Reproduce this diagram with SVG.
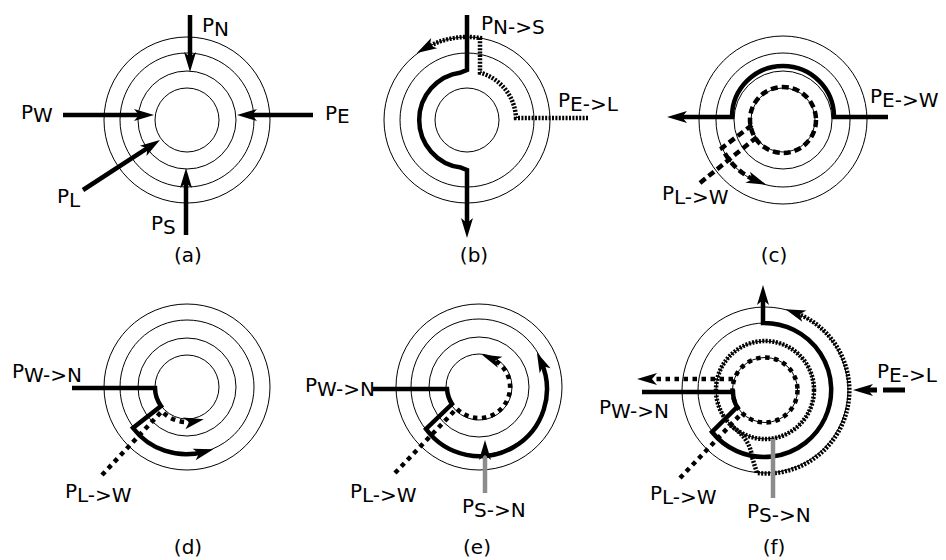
<svg xmlns="http://www.w3.org/2000/svg" width="946" height="560" viewBox="0 0 946 560">
<style>
.ring{fill:none;stroke:#000;stroke-width:1}
.thick{fill:none;stroke:#000;stroke-width:4.5}
.rail{fill:none;stroke:#000;stroke-width:4.5;stroke-dasharray:2 1.4}
.sq{fill:none;stroke:#000;stroke-width:4.5;stroke-dasharray:4.5 4.5}
.dash{fill:none;stroke:#000;stroke-width:4.5;stroke-dasharray:7 4}
.gray{fill:none;stroke:#8c8c8c;stroke-width:4.5}
text{font-family:"DejaVu Sans","Liberation Sans",sans-serif;font-size:20px;fill:#000}
.cap{text-anchor:middle}
</style>
<defs>
<marker id="ah" markerUnits="userSpaceOnUse" markerWidth="24" markerHeight="16" viewBox="-12 -8 24 16" refX="0" refY="0" orient="auto" overflow="visible">
<path d="M10,0 L-10,-6 L-5,0 L-10,6 Z" fill="#000"/>
</marker>
</defs>
<rect width="946" height="560" fill="#fff"/>

<g id="panel-a">
<circle class="ring" cx="187" cy="120" r="32"/>
<circle class="ring" cx="187" cy="120" r="49"/>
<circle class="ring" cx="187" cy="120" r="67"/>
<circle class="ring" cx="187" cy="120" r="83"/>
<g id="connectors-a">
<path class="thick" d="M190,15 V62" marker-end="url(#ah)"/>
<path class="thick" d="M63,115 H144" marker-end="url(#ah)"/>
<path class="thick" d="M313,115 H247" marker-end="url(#ah)"/>
<path class="thick" d="M186,235 V178" marker-end="url(#ah)"/>
<path class="thick" d="M83,190 L151.6,145.4" marker-end="url(#ah)"/>
</g>
<text x="202" y="32">P<tspan dy="3.5">N</tspan></text>
<text x="21" y="118.5">P<tspan dy="3.5">W</tspan></text>
<text x="325" y="119.5">P<tspan dy="3.5">E</tspan></text>
<text x="57" y="203">P<tspan dy="3.5">L</tspan></text>
<text x="151" y="230">P<tspan dy="3.5">S</tspan></text>
<text class="cap" x="188" y="262">(a)</text>
</g>

<g id="panel-b">
<circle class="ring" cx="467" cy="120" r="32"/>
<circle class="ring" cx="467" cy="120" r="67"/>
<circle class="ring" cx="467" cy="120" r="83"/>
<g id="connectors-b">
<path class="thick" d="M467,15 V70 L461,72.4 A48,48 0 0 0 461,167.6 L467,170 V228" marker-end="url(#ah)"/>
<path class="rail" d="M588,118 H516 A49,49 0 0 0 480,72.7 V38 A83,83 0 0 0 425.5,48.1" marker-end="url(#ah)"/>
</g>
<text x="481" y="30">P<tspan dy="4">N-&gt;S</tspan></text>
<text x="558" y="107">P<tspan dy="4">E-&gt;L</tspan></text>
<text class="cap" x="474" y="262">(b)</text>
</g>

<g id="panel-c">
<circle class="ring" cx="783" cy="120" r="32"/>
<circle class="ring" cx="783" cy="120" r="49"/>
<circle class="ring" cx="783" cy="120" r="67"/>
<circle class="ring" cx="783" cy="120" r="84"/>
<g id="connectors-c">
<path class="thick" d="M888,117 H834 A51,51 0 0 0 732,117 H677" marker-end="url(#ah)"/>
<circle class="dash" cx="783" cy="120" r="33"/>
<path class="dash" d="M700,183 L757,137"/>
<path class="dash" d="M752,125 L722,148 A66,66 0 0 0 757,181" marker-end="url(#ah)"/>
</g>
<text x="870" y="103">P<tspan dy="4">E-&gt;W</tspan></text>
<text x="662" y="200">P<tspan dy="4">L-&gt;W</tspan></text>
<text class="cap" x="774" y="262">(c)</text>
</g>

<g id="panel-d">
<circle class="ring" cx="187" cy="387" r="32"/>
<circle class="ring" cx="187" cy="387" r="49"/>
<circle class="ring" cx="187" cy="387" r="67"/>
<circle class="ring" cx="187" cy="387" r="83"/>
<g id="connectors-d">
<path class="thick" d="M72,388 H155 A32,32 0 0 0 161,406 L133,428 A67,67 0 0 0 203.8,451.9" marker-end="url(#ah)"/>
<path class="sq" d="M102,475 L161.8,411.3 A35,35 0 0 0 194,421.3" marker-end="url(#ah)"/>
</g>
<text x="12" y="378">P<tspan dy="3.5">W-&gt;N</tspan></text>
<text x="65" y="498">P<tspan dy="3.5">L-&gt;W</tspan></text>
<text class="cap" x="188" y="554">(d)</text>
</g>

<g id="panel-e">
<circle class="ring" cx="479" cy="387" r="33"/>
<circle class="ring" cx="479" cy="387" r="50"/>
<circle class="ring" cx="479" cy="387" r="68"/>
<circle class="ring" cx="479" cy="387" r="83"/>
<g id="connectors-e">
<path class="thick" d="M373,389 H447 A32,32 0 0 0 452,404 L426,429 A67,67 0 0 0 541,361.7" marker-end="url(#ah)"/>
<path class="sq" d="M395,473 L456.7,408.5 A31,31 0 1 0 490.9,358.4" marker-end="url(#ah)"/>
<path class="gray" d="M485,493 V450" marker-end="url(#ah)"/>
</g>
<text x="305" y="392">P<tspan dy="3.5">W-&gt;N</tspan></text>
<text x="350" y="498">P<tspan dy="3.5">L-&gt;W</tspan></text>
<text x="462" y="513">P<tspan dy="3.5">S-&gt;N</tspan></text>
<text class="cap" x="477" y="554">(e)</text>
</g>

<g id="panel-f">
<circle class="ring" cx="765" cy="390" r="32.5"/>
<circle class="ring" cx="765" cy="390" r="49"/>
<circle class="ring" cx="765" cy="390" r="67"/>
<circle class="ring" cx="765" cy="390" r="83"/>
<g id="connectors-f">
<circle class="rail" cx="765" cy="390" r="49"/>
<circle class="sq" cx="765" cy="390" r="32.5"/>
<path class="thick" d="M642,392 H733 A32,32 0 0 0 737,407 L712,432 A67,67 0 1 0 763,323 V295" marker-end="url(#ah)"/>
<path class="rail" d="M730,425 Q750,438 752,457 L757,473 A83,83 0 0 0 794.9,312.6" marker-end="url(#ah)"/>
<path class="sq" d="M680,478 L742,413"/>
<path class="sq" d="M733,379 H647" marker-end="url(#ah)"/>
<path class="gray" d="M773,498 V439"/>
<path class="thick" d="M905,390 H863" style="stroke-width:5;stroke-dasharray:22 6" marker-end="url(#ah)"/>
</g>
<text x="877" y="378">P<tspan dy="3.5">E-&gt;L</tspan></text>
<text x="599" y="414">P<tspan dy="3.5">W-&gt;N</tspan></text>
<text x="650" y="500">P<tspan dy="3.5">L-&gt;W</tspan></text>
<text x="747" y="518">P<tspan dy="3.5">S-&gt;N</tspan></text>
<text class="cap" x="774" y="554">(f)</text>
</g>
</svg>
